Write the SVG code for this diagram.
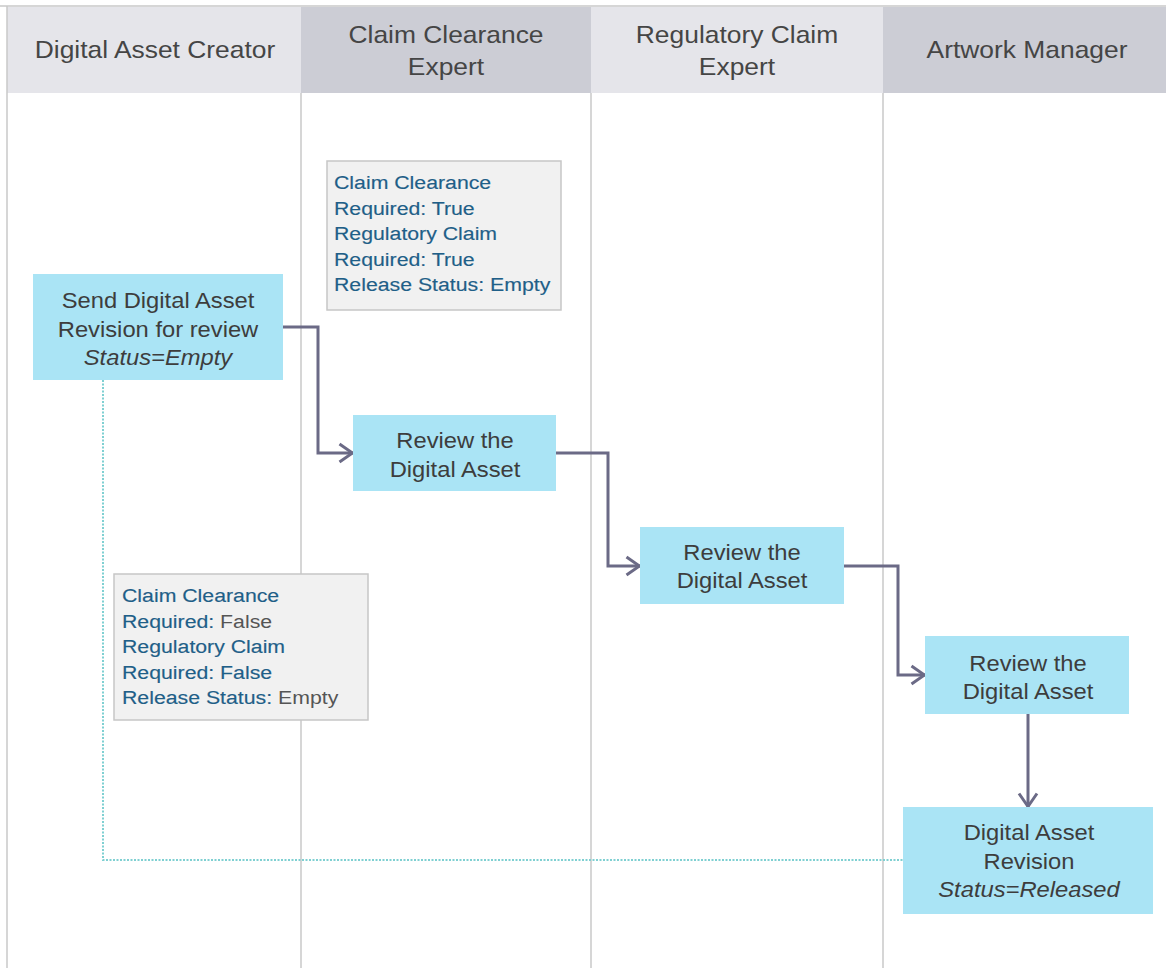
<svg xmlns="http://www.w3.org/2000/svg" width="1166" height="968" viewBox="0 0 1166 968">
  <style>
    text { font-family: "Liberation Sans", Arial, sans-serif; }
    .hd { font-size: 24px; fill: #454545; text-anchor: middle; }
    .nt { font-size: 22px; fill: #3d3d3d; text-anchor: middle; }
    .it { font-style: italic; }
    .note-t { font-size: 19px; fill: #1f5f88; stroke: #1f5f88; stroke-width: 0.15; }
    .grey { fill: #555; stroke: none; }
    .task { fill: #aae4f5; }
    .note { fill: #f1f1f1; stroke: #c6c6c6; stroke-width: 1.5; }
    .lane { stroke: #c9c9c9; stroke-width: 1.5; }
    .flow { fill: none; stroke: #6b6a86; stroke-width: 3; }
    .link { fill: none; stroke: #7fd0d2; stroke-width: 2; stroke-dasharray: 2 1.5; }
  </style>
  <defs>
    <!-- open chevron head used by every flow connector -->
    <marker id="open-arrow" viewBox="0 0 17 22" refX="15.5" refY="11" markerWidth="17" markerHeight="22" markerUnits="userSpaceOnUse" orient="auto">
      <path d="M2,2 L15,11 L2,20" fill="none" stroke="#6b6a86" stroke-width="3" stroke-linejoin="miter"/>
    </marker>
  </defs>

  <rect width="1166" height="968" fill="#ffffff"/>

  <!-- swimlane headers -->
  <g id="lanes">
    <rect x="7" y="7" width="294" height="86" fill="#e5e5ea"/>
    <rect x="301" y="7" width="290" height="86" fill="#cccdd5"/>
    <rect x="591" y="7" width="292" height="86" fill="#e5e5ea"/>
    <rect x="883" y="7" width="283" height="86" fill="#cccdd5"/>
    <line class="lane" x1="0" y1="6" x2="1166" y2="6"/>
    <line class="lane" x1="7" y1="6" x2="7" y2="968"/>
    <line class="lane" x1="301" y1="93" x2="301" y2="968"/>
    <line class="lane" x1="591" y1="93" x2="591" y2="968"/>
    <line class="lane" x1="883" y1="93" x2="883" y2="968"/>
    <text class="hd" transform="translate(155,58) scale(1.1,1)">Digital Asset Creator</text>
    <text class="hd" transform="translate(446,43) scale(1.1,1)">Claim Clearance</text>
    <text class="hd" transform="translate(446,75) scale(1.1,1)">Expert</text>
    <text class="hd" transform="translate(737,43) scale(1.1,1)">Regulatory Claim</text>
    <text class="hd" transform="translate(737,75) scale(1.1,1)">Expert</text>
    <text class="hd" transform="translate(1027,58) scale(1.1,1)">Artwork Manager</text>
  </g>

  <!-- connectors -->
  <g id="connectors">
    <polyline class="link" points="103,380 103,860 903,860"/>
    <polyline class="flow" points="283,327 318,327 318,453 353,453" marker-end="url(#open-arrow)"/>
    <polyline class="flow" points="556,453 608,453 608,566 640,566" marker-end="url(#open-arrow)"/>
    <polyline class="flow" points="843,566 898,566 898,675 925,675" marker-end="url(#open-arrow)"/>
    <line class="flow" x1="1028" y1="714" x2="1028" y2="807" marker-end="url(#open-arrow)"/>
  </g>

  <g id="note-required-true">
    <rect class="note" x="327" y="161" width="234" height="149"/>
    <text class="note-t" transform="translate(334,189) scale(1.12,1)">Claim Clearance</text>
    <text class="note-t" transform="translate(334,215) scale(1.12,1)">Required: True</text>
    <text class="note-t" transform="translate(334,240) scale(1.12,1)">Regulatory Claim</text>
    <text class="note-t" transform="translate(334,266) scale(1.12,1)">Required: True</text>
    <text class="note-t" transform="translate(334,291) scale(1.12,1)">Release Status: Empty</text>
  </g>

  <g id="note-required-false">
    <rect class="note" x="114" y="574" width="254" height="146"/>
    <text class="note-t" transform="translate(122,602) scale(1.12,1)">Claim Clearance</text>
    <text class="note-t" transform="translate(122,628) scale(1.12,1)">Required: <tspan class="grey">False</tspan></text>
    <text class="note-t" transform="translate(122,653) scale(1.12,1)">Regulatory Claim</text>
    <text class="note-t" transform="translate(122,679) scale(1.12,1)">Required: False</text>
    <text class="note-t" transform="translate(122,704) scale(1.12,1)">Release Status: <tspan class="grey">Empty</tspan></text>
  </g>

  <g id="send-revision">
    <rect class="task" x="33" y="274" width="250" height="106"/>
    <text class="nt" transform="translate(158,308) scale(1.08,1)">Send Digital Asset</text>
    <text class="nt" transform="translate(158,337) scale(1.08,1)">Revision for review</text>
    <text class="nt it" transform="translate(158,365) scale(1.08,1)">Status=Empty</text>
  </g>

  <g id="review-claim-clearance">
    <rect class="task" x="353" y="415" width="203" height="76"/>
    <text class="nt" transform="translate(455,448) scale(1.08,1)">Review the</text>
    <text class="nt" transform="translate(455,477) scale(1.08,1)">Digital Asset</text>
  </g>

  <g id="review-regulatory-claim">
    <rect class="task" x="640" y="527" width="204" height="77"/>
    <text class="nt" transform="translate(742,560) scale(1.08,1)">Review the</text>
    <text class="nt" transform="translate(742,588) scale(1.08,1)">Digital Asset</text>
  </g>

  <g id="review-artwork-manager">
    <rect class="task" x="925" y="636" width="204" height="78"/>
    <text class="nt" transform="translate(1028,671) scale(1.08,1)">Review the</text>
    <text class="nt" transform="translate(1028,699) scale(1.08,1)">Digital Asset</text>
  </g>

  <g id="revision-released">
    <rect class="task" x="903" y="807" width="250" height="107"/>
    <text class="nt" transform="translate(1029,840) scale(1.08,1)">Digital Asset</text>
    <text class="nt" transform="translate(1029,869) scale(1.08,1)">Revision</text>
    <text class="nt it" transform="translate(1029,897) scale(1.08,1)">Status=Released</text>
  </g>
</svg>
